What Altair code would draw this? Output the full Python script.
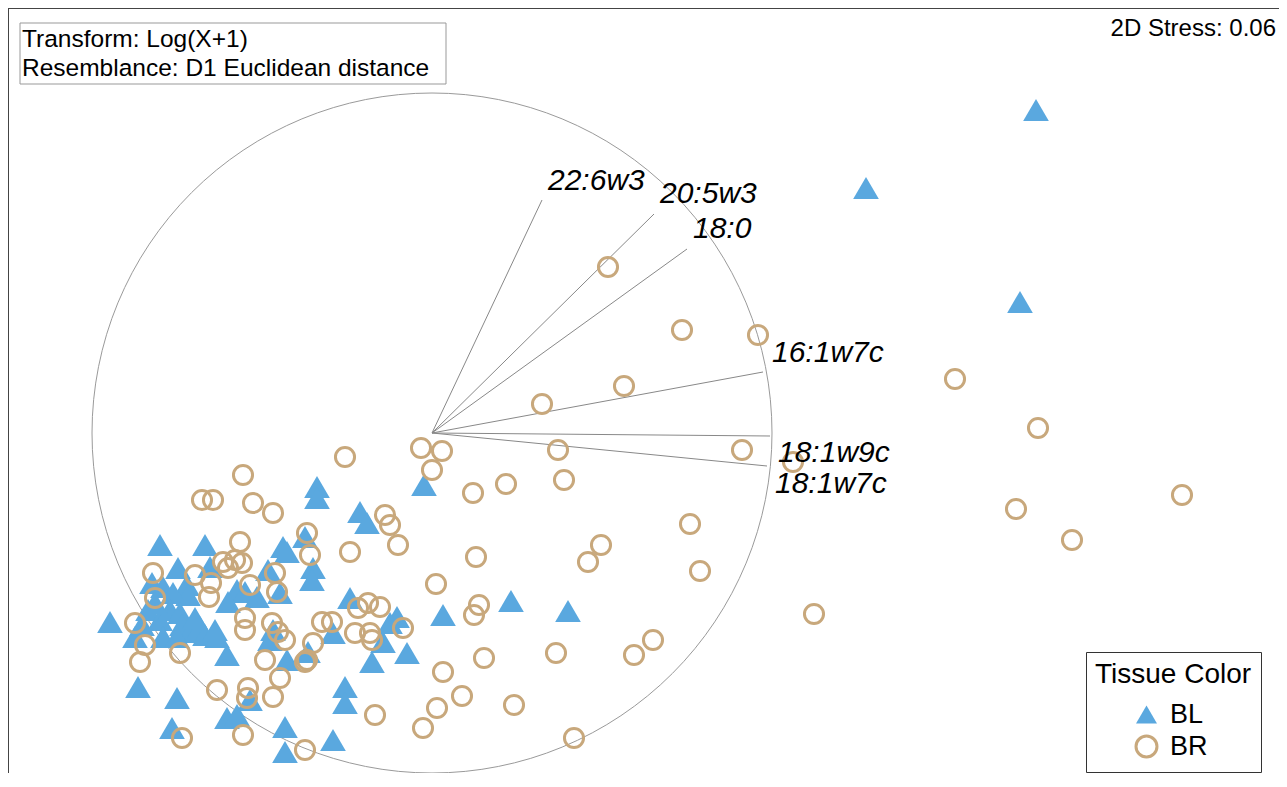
import altair as alt
import pandas as pd

# ---- NMDS sample scores (plot units) ----
bl_x = [1036, 866, 1020, 568, 511, 424, 443,
        317, 317, 360, 367, 305, 287, 313, 312,
        350, 397, 390, 333, 383, 407, 372, 308, 287, 227,
        160, 205, 283, 178, 210, 268, 152, 163, 187, 188, 173, 237, 228, 257, 280, 245,
        110, 148, 160, 170, 180, 182, 190, 135, 163, 177, 200, 205, 217, 195, 215, 273, 270, 155, 142,
        138, 177, 172, 227, 237, 250, 285, 285, 333, 345, 345]
bl_y = [110, 188, 302, 611, 601, 485, 615,
        487, 498, 512, 523, 537, 552, 568, 580,
        598, 617, 623, 633, 642, 653, 662, 652, 660, 655,
        545, 545, 547, 568, 567, 570, 583, 587, 585, 595, 593, 590, 602, 597, 593, 592,
        622, 610, 620, 610, 613, 625, 632, 637, 637, 637, 627, 635, 637, 618, 630, 630, 640, 603, 625,
        687, 698, 728, 718, 715, 700, 727, 752, 740, 687, 703]

br_x = [608, 682, 758, 624, 542, 955, 1038, 742, 793, 1182, 1016, 1072, 814, 690, 601, 588, 700,
        653, 634, 564, 558, 506, 473, 476, 436, 479, 474, 556, 484, 443, 462, 514, 574, 437, 423,
        421, 442, 432,
        345, 243, 202, 213, 253, 273, 385, 390, 398, 350, 307, 310, 240,
        223, 235, 242, 228, 153, 195, 211, 209, 250, 275, 277, 155, 245, 245, 272, 278, 285,
        135, 145, 140, 180, 265, 305, 280, 217, 248, 247, 273, 182, 243, 305, 375,
        358, 368, 380, 322, 332, 355, 370, 372, 403, 313, 307]
br_y = [267, 330, 335, 386, 404, 379, 428, 450, 462, 495, 509, 540, 614, 524, 545, 562, 571,
        640, 655, 480, 450, 484, 493, 557, 584, 605, 615, 653, 658, 672, 696, 705, 738, 708, 728,
        448, 451, 470,
        457, 475, 500, 500, 503, 513, 515, 525, 545, 552, 533, 555, 542,
        562, 560, 563, 568, 573, 575, 583, 597, 585, 573, 592, 598, 618, 630, 623, 632, 640,
        623, 645, 662, 653, 660, 662, 678, 690, 688, 698, 697, 738, 735, 750, 715,
        608, 603, 607, 622, 622, 633, 633, 640, 628, 643, 660]

# ---- vector overlay (fatty acids) ----
vec_names = ["22:6w3", "20:5w3", "18:0", "16:1w7c", "18:1w9c", "18:1w7c"]
vec_x_end = [542, 654, 687, 763, 770, 767]
vec_y_end = [200, 214, 249, 372, 436, 466]
vec_lab_x = [548, 660, 693, 772, 778, 775]
vec_lab_y = [190, 203, 238, 362, 462, 493]
origin_x = [432]
origin_y = [433]
circle_r = 340

BLUE = "#5AA8DF"
TAN = "#C8A87C"
FONT = "Liberation Sans"

pts = pd.DataFrame({
    "x": bl_x + br_x,
    "y": bl_y + br_y,
    "Tissue": ["BL"] * len(bl_x) + ["BR"] * len(br_x),
})
vec = pd.DataFrame({
    "name": vec_names, "x": origin_x * len(vec_names), "y": origin_y * len(vec_names),
    "x2": vec_x_end, "y2": vec_y_end, "lx": vec_lab_x, "ly": vec_lab_y,
})
orig = pd.DataFrame({"x": origin_x, "y": origin_y})

W, H = 1271, 765
xs = alt.Scale(domain=[8, 8 + W], nice=False, zero=False)
ys = alt.Scale(domain=[8, 8 + H], nice=False, zero=False, reverse=True)


def X(f):
    return alt.X(f, type="quantitative", scale=xs, axis=None)


def Y(f):
    return alt.Y(f, type="quantitative", scale=ys, axis=None)


# Vega's circle symbol: diameter = sqrt(size)
circle = alt.Chart(orig).mark_point(
    shape="circle", size=(2 * circle_r) ** 2, filled=False,
    stroke="#9a9a9a", strokeWidth=1, opacity=1
).encode(x=X("x"), y=Y("y"))

rules = alt.Chart(vec).mark_rule(color="#888888", strokeWidth=1).encode(
    x=X("x"), y=Y("y"), x2=alt.X2("x2"), y2=alt.Y2("y2"))

labels = alt.Chart(vec).mark_text(
    align="left", baseline="alphabetic", fontSize=30, fontStyle="italic",
    font=FONT, color="black"
).encode(x=X("lx"), y=Y("ly"), text=alt.Text("name:N"))

TITLE = "Tissue Color"
points = alt.Chart(pts).mark_point(opacity=1, strokeWidth=3).encode(
    x=X("x"), y=Y("y"),
    shape=alt.Shape("Tissue:N", title=TITLE,
                    scale=alt.Scale(domain=["BL", "BR"], range=["triangle-up", "circle"])),
    fill=alt.Fill("Tissue:N", title=TITLE,
                  scale=alt.Scale(domain=["BL", "BR"], range=[BLUE, "transparent"])),
    stroke=alt.Stroke("Tissue:N", title=TITLE,
                      scale=alt.Scale(domain=["BL", "BR"], range=["transparent", TAN])),
    size=alt.condition(alt.datum.Tissue == "BL", alt.value(660), alt.value(365)),
)

# annotation box + texts
ann = pd.DataFrame({
    "t": ["Transform: Log(X+1)", "Resemblance: D1 Euclidean distance"],
    "x": [22, 22], "y": [47, 76],
})
ann_text = alt.Chart(ann).mark_text(
    align="left", baseline="alphabetic", fontSize=24.5, font=FONT, color="black"
).encode(x=X("x"), y=Y("y"), text=alt.Text("t:N"))

box = pd.DataFrame({"x": [20], "x2": [446], "y": [23], "y2": [84]})
ann_box = alt.Chart(box).mark_rect(
    fill="white", fillOpacity=0, stroke="#999999", strokeWidth=1
).encode(x=X("x"), x2=alt.X2("x2"), y=Y("y"), y2=alt.Y2("y2"))

stress_df = pd.DataFrame({"t": ["2D Stress: 0.06"], "x": [1276], "y": [36]})
stress = alt.Chart(stress_df).mark_text(
    align="right", baseline="alphabetic", fontSize=24, font=FONT, color="black"
).encode(x=X("x"), y=Y("y"), text=alt.Text("t:N"))

frame = pd.DataFrame({"x": [8, 8], "x2": [8 + W, 8], "y": [8, 8], "y2": [8, 8 + H]})
frame_rules = alt.Chart(frame).mark_rule(color="#444444", strokeWidth=2).encode(
    x=X("x"), x2=alt.X2("x2"), y=Y("y"), y2=alt.Y2("y2"))

chart = alt.layer(
    frame_rules, ann_box, ann_text, stress, circle, rules, points, labels
).properties(
    width=W, height=H, padding=0, autosize=alt.AutoSizeParams(type="none")
).configure_view(stroke=None).configure_legend(
    orient="none", legendX=1078, legendY=644, padding=9,
    strokeColor="#333333", fillColor="white",
    titleFontSize=28, titleFontWeight="normal", titleColor="black", titleFont=FONT,
    labelFontSize=27, labelColor="black", labelFont=FONT,
    symbolOffset=38, rowPadding=0, titlePadding=12, symbolStrokeWidth=3, symbolSize=440,
    labelOffset=10, titleLimit=400,
)

chart.save("out.html", embed_options={"renderer": "svg", "actions": False})
